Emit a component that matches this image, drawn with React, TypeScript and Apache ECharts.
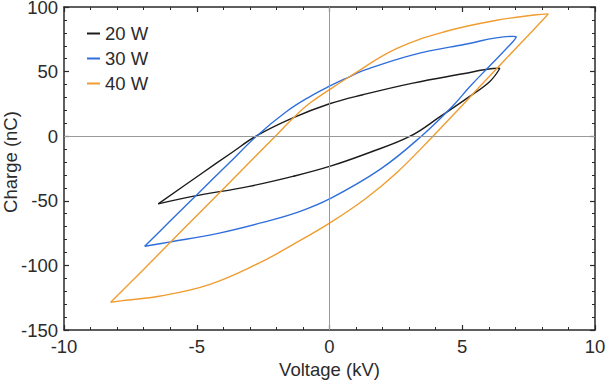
import React, { useEffect, useRef } from "react";
import * as echarts from "echarts";

// Charge–voltage (Lissajous) loops, one closed cycle per discharge power.
// Each loop is kept as two branches that meet at the voltage extremes:
// the rising branch (negative tip -> positive tip) and the falling branch (back again).
const rise20V = [-6.45, -4.91, -3.66, -2.77, -1.38, 0, 1.26, 3.14, 5.03, 6.16, 6.42];
const rise20Q = [-52.4, -30.2, -12.4, 0, 14.1, 25.1, 32.1, 41.1, 48.3, 52.4, 52.6];
const fall20V = [6.42, 6.04, 5.28, 4.15, 3.04, 1.51, 0, -1.38, -3.02, -5.16, -6.45];
const fall20Q = [52.6, 42.4, 30.8, 14.9, 0, -12.6, -23.4, -31.1, -38.8, -46.6, -52.4];

const rise30V = [-6.96, -6.04, -4.91, -3.77, -2.75, -1.63, -0.75, 0, 0.75, 1.26, 3.14, 5.03, 6.92, 7.04];
const rise30Q = [-85.2, -66.5, -43.5, -20.6, 0, 18.9, 30.5, 38.7, 46.0, 50.7, 63.0, 70.8, 77.3, 77.0];
const fall30V = [7.04, 6.94, 6.04, 5.28, 4.65, 3.46, 1.89, 0, -1.13, -2.39, -4.15, -6.04, -6.96];
const fall30Q = [77.0, 73.9, 54.5, 38.3, 23.6, 0, -25.9, -48.6, -58.4, -66.1, -75.0, -82.0, -85.2];

const rise40V = [-8.24, -7.04, -6.04, -4.91, -3.77, -2.77, -2.04, -1.38, -0.75, 0, 0.75, 2.52, 4.40, 6.29, 7.80, 8.24];
const rise40Q = [-128.5, -103.9, -83.0, -59.6, -36.1, -15.2, 0, 13.9, 25.5, 36.0, 46.0, 67.7, 81.2, 89.7, 94.0, 94.7];
const fall40V = [8.24, 8.11, 7.05, 5.66, 4.72, 3.90, 2.52, 1.38, 0, -1.38, -2.64, -4.53, -6.42, -7.68, -8.24];
const fall40Q = [94.7, 91.6, 68.7, 38.4, 17.8, 0, -28.5, -48.0, -67.3, -83.9, -98.1, -114.9, -123.9, -127.0, -128.5];

const seriesNames = ["20 W", "30 W", "40 W"];
const seriesColors = ["#1c1c1c", "#2f6fdc", "#f09c30"];

const pairs = (xs: number[], ys: number[]) => xs.map((x, i) => [x, ys[i]]);

const FONT = "Liberation Sans, Arial, Helvetica, sans-serif";
const INK = "#2a2a2a";
const TEXT = "#2b2b2b";

function frameAxis(position: string, showLabel: boolean, min: number, max: number, interval: number, margin: number, lineHeight: number) {
  return {
    type: "value" as const,
    position,
    min,
    max,
    interval,
    axisLine: { show: true, onZero: false, lineStyle: { color: INK, width: 1.5 } },
    axisTick: { show: true, inside: true, length: 5, lineStyle: { color: INK, width: 1.2 } },
    minorTick: { show: true, splitNumber: 5, length: 3, lineStyle: { color: INK, width: 1 } },
    splitLine: { show: false },
    axisLabel: {
      show: showLabel,
      color: TEXT,
      fontSize: 18.5,
      lineHeight,
      fontFamily: FONT,
      margin,
    },
  };
}

export default function App() {
  const ref = useRef<HTMLDivElement>(null);

  useEffect(() => {
    if (!ref.current) return;
    const chart = echarts.init(ref.current, undefined, { renderer: "svg" });

    const branches = [
      [pairs(rise20V, rise20Q), pairs(fall20V, fall20Q)],
      [pairs(rise30V, rise30Q), pairs(fall30V, fall30Q)],
      [pairs(rise40V, rise40Q), pairs(fall40V, fall40Q)],
    ];

    const loopSeries = branches.flatMap((pair, i) =>
      pair.map((d) => ({
        name: seriesNames[i],
        type: "line",
        data: d,
        z: 3,
        smooth: 0.4,
        showSymbol: false,
        symbol: "none",
        color: seriesColors[i],
        lineStyle: { color: seriesColors[i], width: 1.4 },
      }))
    );

    chart.setOption({
      animation: false,
      backgroundColor: "#ffffff",
      grid: {
        left: 64,
        right: 10,
        top: 7,
        bottom: 51,
        containLabel: false,
        outerBoundsMode: "none",
      },
      legend: {
        data: seriesNames,
        orient: "vertical",
        left: 87,
        top: 24,
        itemWidth: 13,
        itemHeight: 2,
        itemGap: 6,
        padding: 0,
        icon: "rect",
        textStyle: { fontSize: 18.5, fontFamily: FONT, color: TEXT, lineHeight: 17 },
      },
      graphic: [
        {
          type: "text",
          x: 10,
          y: 162,
          rotation: Math.PI / 2,
          silent: true,
          style: {
            text: "Charge (nC)",
            fontSize: 18.5,
            fontFamily: FONT,
            fill: TEXT,
            align: "center",
            verticalAlign: "middle",
          },
        },
      ],
      xAxis: [
        {
          ...frameAxis("bottom", true, -10, 10, 5, 9, 14),
          name: "Voltage (kV)",
          nameLocation: "middle",
          nameGap: 23,
          nameTextStyle: { fontSize: 18.5, fontFamily: FONT, color: TEXT },
        },
        frameAxis("top", false, -10, 10, 5, 9, 14),
      ],
      yAxis: [
        frameAxis("left", true, -150, 100, 50, 6, 12),
        frameAxis("right", false, -150, 100, 50, 6, 12),
      ],
      series: [
        {
          name: "zero",
          type: "line",
          data: [],
          z: 1,
          silent: true,
          markLine: {
            silent: true,
            symbol: "none",
            animation: false,
            label: { show: false },
            lineStyle: { color: "#9a9a9a", width: 1, type: "solid" },
            data: [{ xAxis: 0 }, { yAxis: 0 }],
          },
        },
        ...loopSeries,
      ],
    });

    return () => chart.dispose();
  }, []);

  return (
    <div
      ref={ref}
      style={{ position: "fixed", left: 0, top: 0, width: 605, height: 381 }}
    />
  );
}
